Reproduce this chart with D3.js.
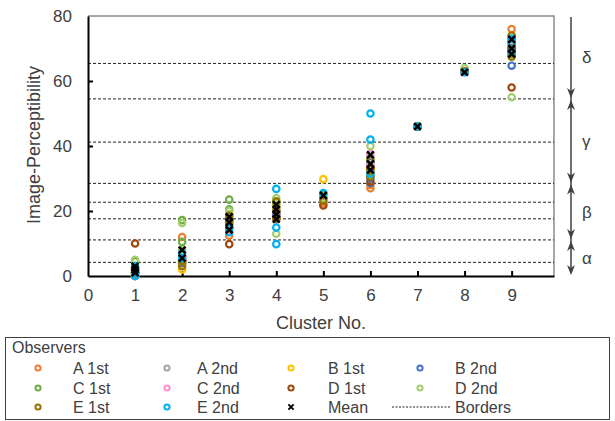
<!DOCTYPE html>
<html>
<head>
<meta charset="utf-8">
<script src="https://cdn.jsdelivr.net/npm/d3@7"></script>
<style>
  html, body { margin: 0; padding: 0; background: #fff; }
  svg { display: block; font-family: "Liberation Sans", Arial, sans-serif; }
</style>
</head>
<body>
<svg id="chart" width="615" height="421"></svg>
<script>
// Cluster numbers on the x axis
const clusters = [1, 2, 3, 4, 5, 6, 7, 8, 9];
const xTicks = [0, 1, 2, 3, 4, 5, 6, 7, 8, 9];
const yTicks = [0, 20, 40, 60, 80];

// Ratings per observer session; one inner list per cluster (several images per cluster)
const a1st = [[0, 2, 1], [12, 6], [12.4, 18], [20, 19], [22.5], [27, 28, 33], [46], [63], [76, 72, 70]];
const a2nd = [[1], [5], [16], [18], [24], [31], [46], [63], [73]];
const b1st = [[0, 1], [2, 4], [19], [22], [29.8], [34], [46], [63], [74]];
const b2nd = [[0], [4], [15], [19], [24], [35, 30, 28.6], [46], [63], [64.7, 70]];
const c1st = [[4.5, 1], [17.2, 10.5], [23.5, 20.5], [21, 22.5], [25], [36, 32], [46], [63], [72, 69]];
const c2nd = [[0], [6], [17], [20], [24], [37.5, 34], [46], [63], [71]];
const d1st = [[10, 2], [5], [9.8, 17], [18], [21.7], [33, 29], [46], [63], [58, 70]];
const d2nd = [[5, 3], [16.3, 8], [20, 19], [24, 13], [24], [40, 31], [46], [64], [55, 68]];
const e1st = [[2, 1], [3, 4.5], [18.5, 16.5], [23, 17.5, 20], [23.2], [35.7, 33, 30.6], [46], [63], [74, 68.5, 67.5]];
const e2nd = [[0, 3, 1], [5.5, 7], [14.7, 13.5], [26.8, 14.9, 9.8], [25.5], [50, 42, 31.5], [46], [62.7], [73, 71.6, 69]];
const means = [[1, 2, 3], [8, 5.5], [18.2, 16.5, 14.2], [22, 20.5, 19, 17.5], [24.8], [37.3, 34.5, 32.6], [46], [62.7], [72.8, 70, 68.3]];

// Level borders and the level bands they delimit
const borders = [65.4, 54.5, 41.2, 28.5, 22.7, 17.6, 11.1, 4.2];
const levels = [
  { name: "δ", top: 80, bottom: 54.5 },
  { name: "γ", top: 54.5, bottom: 28.5 },
  { name: "β", top: 28.5, bottom: 11.1 },
  { name: "α", top: 11.1, bottom: 0 }
];

const series = [
  { name: "A 1st", color: "#ED7D31", data: a1st },
  { name: "A 2nd", color: "#A5A5A5", data: a2nd },
  { name: "B 1st", color: "#FFC000", data: b1st },
  { name: "B 2nd", color: "#4472C4", data: b2nd },
  { name: "C 1st", color: "#70AD47", data: c1st },
  { name: "C 2nd", color: "#FF8FCB", data: c2nd },
  { name: "D 1st", color: "#9E480E", data: d1st },
  { name: "D 2nd", color: "#A2CF6E", data: d2nd },
  { name: "E 1st", color: "#997300", data: e1st },
  { name: "E 2nd", color: "#00B0F0", data: e2nd }
];

const svg = d3.select("#chart");
const textColor = "#404040";

const x = d3.scaleLinear().domain([0, 9.9]).range([88, 554]);
const y = d3.scaleLinear().domain([0, 80]).range([276, 16]);

// Plot frame (top and right)
svg.append("path")
  .attr("d", `M${x(0)},${y(80)}H${x(9.9)}V${y(0)}`)
  .attr("fill", "none").attr("stroke", "#8C8C8C").attr("stroke-width", 1.5);

// Dashed level borders
svg.append("g").selectAll("line").data(borders).join("line")
  .attr("x1", x(0)).attr("x2", x(9.9))
  .attr("y1", d => y(d)).attr("y2", d => y(d))
  .attr("stroke", "#222").attr("stroke-width", 1)
  .attr("stroke-dasharray", "3,2");

// Axes
const yAxis = svg.append("g").attr("transform", `translate(${x(0)},0)`)
  .call(d3.axisLeft(y).tickValues(yTicks).tickSize(-5).tickSizeOuter(0).tickPadding(16));
const xAxis = svg.append("g").attr("transform", `translate(0,${y(0)})`)
  .call(d3.axisBottom(x).tickValues(xTicks).tickSize(-5).tickSizeOuter(0).tickPadding(13));
[yAxis, xAxis].forEach(g => {
  g.select(".domain").attr("stroke", "#000").attr("stroke-width", 2);
  g.selectAll(".tick line").attr("stroke", "#000").attr("stroke-width", 2);
  g.selectAll(".tick text").attr("fill", textColor)
    .style("font-size", "17px").style("font-family", "'Liberation Sans', Arial, sans-serif");
});
yAxis.selectAll(".tick").filter(d => d === 80 || d === 0).select("line").remove();
xAxis.selectAll(".tick").filter(d => d === 0).select("line").remove();

// Axis titles
svg.append("text")
  .attr("x", 321).attr("y", 329)
  .attr("text-anchor", "middle").attr("fill", textColor)
  .style("font-size", "18px")
  .text("Cluster No.");
svg.append("text")
  .attr("transform", "translate(40,145) rotate(-90)")
  .attr("text-anchor", "middle").attr("fill", textColor)
  .style("font-size", "18px")
  .text("Image-Perceptibility");

// Observer markers, drawn series by series
const points = (data) => data.flatMap((vals, i) => vals.map(v => ({ c: clusters[i], v })));
const marks = svg.append("g");
series.forEach(s => {
  marks.append("g").selectAll("circle").data(points(s.data)).join("circle")
    .attr("cx", d => x(d.c)).attr("cy", d => y(d.v)).attr("r", 3.2)
    .attr("fill", "none").attr("stroke", s.color).attr("stroke-width", 2.2);
});

// Mean markers
const cross = (cx, cy, h) => `M${cx - h},${cy - h}L${cx + h},${cy + h}M${cx - h},${cy + h}L${cx + h},${cy - h}`;
marks.append("g").selectAll("path").data(points(means)).join("path")
  .attr("d", d => cross(x(d.c), y(d.v), 3.4))
  .attr("fill", "none").attr("stroke", "#000").attr("stroke-width", 2.5);

// Level scale on the right
const ax = 571;
const scaleG = svg.append("g");
const headDown = (tx, ty) => `M${tx},${ty}L${tx - 4},${ty - 10}L${tx},${ty - 7}L${tx + 4},${ty - 10}Z`;
const headUp = (tx, ty) => `M${tx},${ty}L${tx - 4},${ty + 10}L${tx},${ty + 7}L${tx + 4},${ty + 10}Z`;
scaleG.append("line")
  .attr("x1", ax).attr("x2", ax).attr("y1", y(80) + 1).attr("y2", y(0) - 3)
  .attr("stroke", "#404040").attr("stroke-width", 1.5);
levels.forEach(l => {
  scaleG.append("path").attr("d", headDown(ax, y(l.bottom) - 1)).attr("fill", "#404040");
  if (l.top < 80) scaleG.append("path").attr("d", headUp(ax, y(l.top) + 1)).attr("fill", "#404040");
  scaleG.append("text")
    .attr("x", 582).attr("y", y((l.top + l.bottom) / 2)).attr("dy", "0.35em")
    .attr("fill", textColor).style("font-size", "17px")
    .text(l.name);
});

// Legend
const lg = svg.append("g");
lg.append("rect").attr("x", 5.5).attr("y", 337.5).attr("width", 604).attr("height", 82)
  .attr("fill", "#fff").attr("stroke", "#404040").attr("stroke-width", 1);
lg.append("text").attr("x", 12).attr("y", 353).attr("fill", textColor)
  .style("font-size", "16px").text("Observers");
const colMark = [38, 167, 291, 420];
const colText = [73, 197, 328, 455];
const rowY = [368, 388, 407];
const items = series.map(s => ({ name: s.name, color: s.color, kind: "circle" }))
  .concat([{ name: "Mean", kind: "cross" }, { name: "Borders", kind: "dash" }]);
items.forEach((it, i) => {
  const r = Math.floor(i / 4), c = i % 4;
  const cy = rowY[r];
  if (it.kind === "circle") {
    lg.append("circle").attr("cx", colMark[c]).attr("cy", cy).attr("r", 2.6)
      .attr("fill", "none").attr("stroke", it.color).attr("stroke-width", 2);
  } else if (it.kind === "cross") {
    lg.append("path").attr("d", cross(colMark[c], cy, 2.6))
      .attr("stroke", "#000").attr("stroke-width", 2);
  } else {
    lg.append("line").attr("x1", 392).attr("x2", 451).attr("y1", cy).attr("y2", cy)
      .attr("stroke", "#222").attr("stroke-width", 1).attr("stroke-dasharray", "2,1.5");
  }
  lg.append("text").attr("x", colText[c]).attr("y", cy).attr("dy", "0.35em")
    .attr("fill", textColor).style("font-size", "16px").text(it.name);
});
</script>
</body>
</html>
